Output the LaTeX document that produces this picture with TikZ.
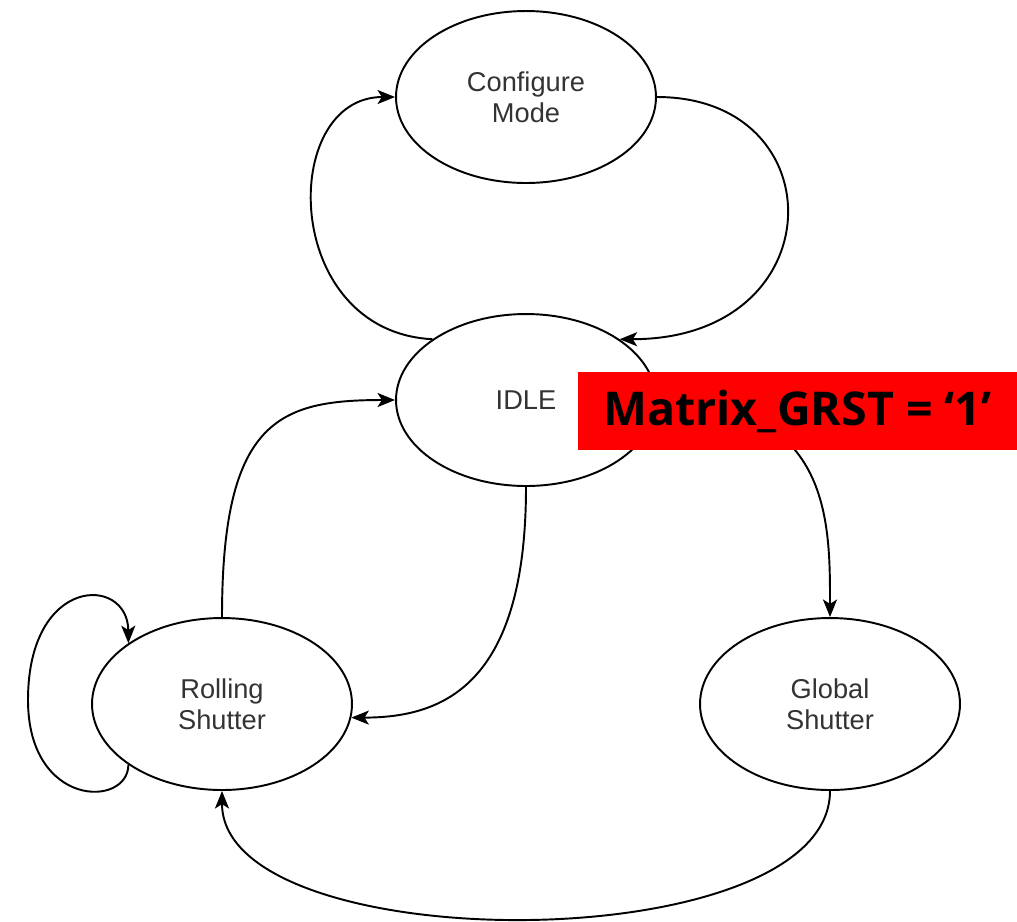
\documentclass[tikz,border=0pt]{standalone}
\usepackage{fontspec}
\setmainfont{Liberation Sans}
\newfontfamily\labelfont{Open Sans}
\usetikzlibrary{shapes.geometric, arrows.meta}
\definecolor{txtgray}{HTML}{333333}

\begin{document}
\begin{tikzpicture}[x=0.02cm, y=-0.02cm,
        state/.style={draw, ellipse, line width=1.1pt, minimum width=5.2cm, minimum height=3.44cm,
            inner sep=0pt, align=center, text=txtgray, font=\fontsize{15.5}{17.5}\selectfont},
        trans/.style={line width=1.1pt, -{Stealth[length=10pt, width=8pt, inset=2.5pt]}},
        cond/.style={fill=red, minimum width=8.78cm, minimum height=1.56cm, inner sep=0pt,
            font=\labelfont\bfseries\fontsize{26.5}{30}\selectfont}]
        \useasboundingbox (0,0) rectangle (1017,921);
        % the states
        \node[state] (config) at (526,97) {Configure\\Mode};
        \node[state] (idle) at (526,400) {IDLE};
        \node[state] (rolling) at (222,704) {Rolling\\Shutter};
        \node[state] (global) at (830,704) {Global\\Shutter};
        % transitions
        \draw[trans] (idle.147) .. controls +(-152,-8) and +(-116,0) .. (config.west);
        \draw[trans] (config.east) .. controls +(180,0) and +(215,0) .. (idle.33);
        \draw[trans] (idle.east) .. controls +(174,0) and +(0,-97) .. (global.north);
        \draw[trans] (idle.south) .. controls +(0,200) and +(90,0) .. (rolling.-6);
        \draw[trans] (rolling.north) .. controls +(0,-197) and +(-116,0) .. (idle.west);
        \draw[trans] (rolling.213) .. controls (128,808) and (28,808) .. (28,700)
            .. controls (28,575) and (128,575) .. (rolling.147);
        \draw[trans] (global.south) .. controls +(0,170) and +(0,170) .. (rolling.south);
        % condition label
        \node[cond] (grst) at (797.5,411) {Matrix\_GRST = ‘1’};
    \end{tikzpicture}
\end{document}
